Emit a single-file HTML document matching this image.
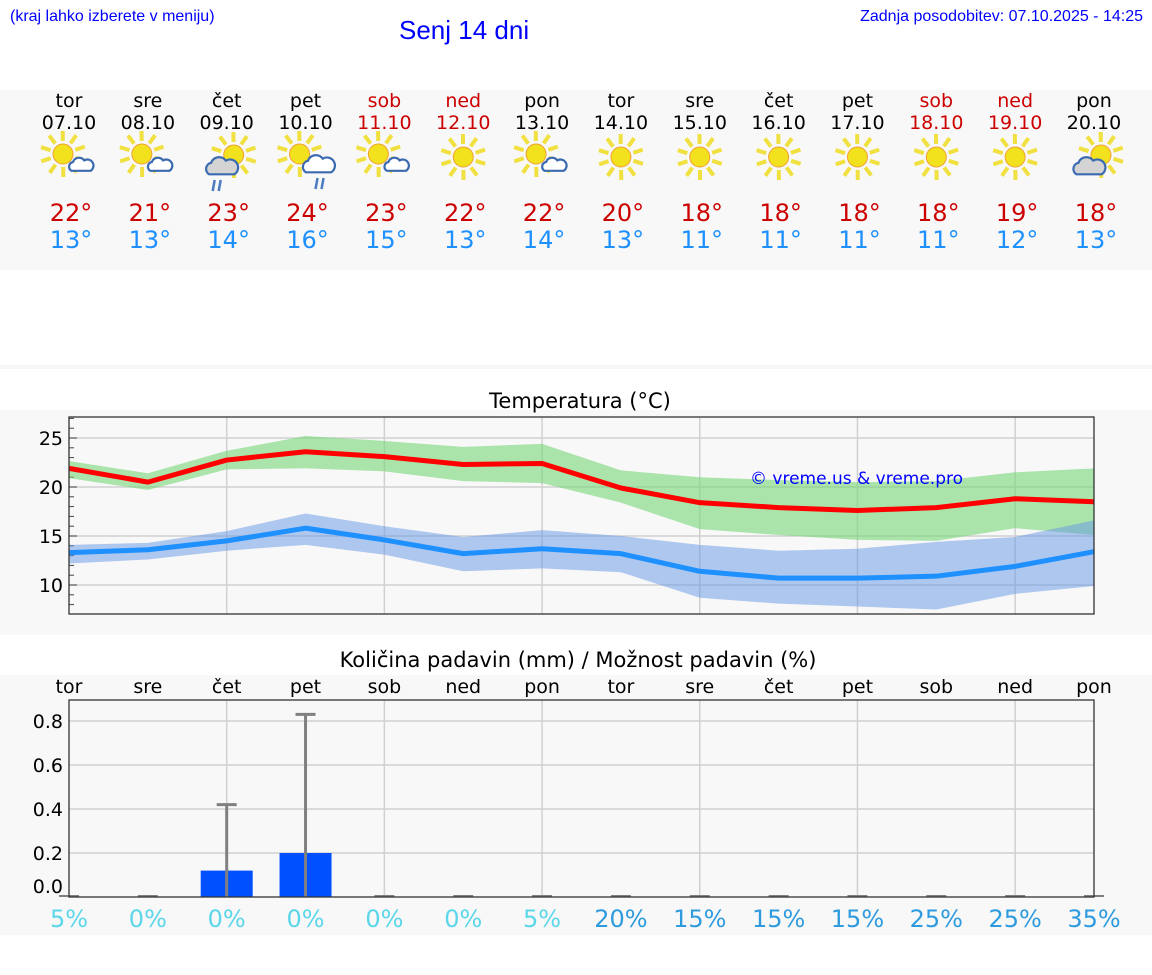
<!DOCTYPE html>
<html><head><meta charset="utf-8"><style>
html,body{margin:0;padding:0;background:#fff;width:1152px;height:975px;overflow:hidden}
svg{display:block}
text{font-family:"DejaVu Sans","Liberation Sans",sans-serif}
.lib{font-family:"Liberation Sans",sans-serif}
</style></head><body>
<svg id="c" width="1152" height="975" viewBox="0 0 1152 975" xmlns="http://www.w3.org/2000/svg">
<rect x="0" y="90" width="1152" height="180" fill="#f8f8f8"/>
<rect x="0" y="365" width="1152" height="4" fill="#f6f6f6"/>
<rect x="0" y="410" width="1152" height="225" fill="#f8f8f8"/>
<rect x="0" y="675" width="1152" height="260" fill="#f8f8f8"/>
<text class="lib" x="10" y="21" font-size="16" fill="#0000ff">(kraj lahko izberete v meniju)</text>
<text class="lib" x="399" y="39" font-size="26" fill="#0000ff">Senj 14 dni</text>
<text class="lib" x="1143" y="21" font-size="16" fill="#0000ff" text-anchor="end">Zadnja posodobitev: 07.10.2025 - 14:25</text>
<g id="days"></g>
<text x="580" y="408" font-size="21" text-anchor="middle" fill="#000">Temperatura (°C)</text>
<rect x="69" y="417" width="1025" height="197" fill="#f8f8f8"/>
<g id="temp"></g>
<text x="578" y="667" font-size="21" text-anchor="middle" fill="#000">Količina padavin (mm) / Možnost padavin (%)</text>
<rect x="69" y="700" width="1025" height="197" fill="#f8f8f8"/>
<g id="prec"></g>
</svg>
<script>
const days=['tor','sre','čet','pet','sob','ned','pon','tor','sre','čet','pet','sob','ned','pon'];
const dates=['07.10','08.10','09.10','10.10','11.10','12.10','13.10','14.10','15.10','16.10','17.10','18.10','19.10','20.10'];
const weekend=[0,0,0,0,1,1,0,0,0,0,0,1,1,0];
const icons=['sc','sc','rg','rc','sc','s','sc','s','s','s','s','s','s','sg'];
const hiLabel=[22,21,23,24,23,22,22,20,18,18,18,18,19,18];
const loLabel=[13,13,14,16,15,13,14,13,11,11,11,11,12,13];
const tMax=[21.9,20.5,22.75,23.6,23.1,22.3,22.4,19.9,18.4,17.9,17.6,17.9,18.8,18.5];
const tMaxHi=[22.65,21.4,23.7,25.2,24.7,24.1,24.4,21.7,21.0,20.7,20.5,20.6,21.5,21.9];
const tMaxLo=[20.9,19.7,21.8,21.9,21.6,20.6,20.4,18.4,15.7,15.1,14.6,14.5,15.8,15.1];
const tMin=[13.3,13.6,14.5,15.8,14.6,13.2,13.7,13.2,11.4,10.7,10.7,10.9,11.9,13.4];
const tMinHi=[14.1,14.3,15.5,17.3,16.0,14.9,15.6,15.0,14.1,13.5,13.7,14.4,14.9,16.6];
const tMinLo=[12.2,12.6,13.5,14.1,13.1,11.4,11.7,11.3,8.7,8.1,7.8,7.5,9.1,9.9];
const tTicks=[10,15,20,25];
const precip=[0,0,0.12,0.2,0,0,0,0,0,0,0,0,0,0];
const precipErr=[0,0,0.42,0.83,0,0,0,0,0,0,0,0,0,0];
const chance=[5,0,0,0,0,0,5,20,15,15,15,25,25,35];
const pTicks=[0,0.2,0.4,0.6,0.8];

const NS='http://www.w3.org/2000/svg';
function mk(parent,tag,attrs,txt){const e=document.createElementNS(NS,tag);for(const k in attrs)e.setAttribute(k,attrs[k]);if(txt!==undefined)e.textContent=txt;parent.appendChild(e);return e;}
const X=i=>69+i*(1025/13);
const TY=v=>487-(v-20)*9.8;
const PY=v=>897-v*220;

const dg=document.getElementById('days');
function sun(g,cx,cy,r){
  for(let k=0;k<10;k++){const a=k*Math.PI/5+0.3;
    const l=mk(g,'line',{x1:cx+Math.cos(a)*(r+3),y1:cy+Math.sin(a)*(r+3),x2:cx+Math.cos(a)*(r+13),y2:cy+Math.sin(a)*(r+13),stroke:'#f0e040','stroke-width':4});
    }
  const c=mk(g,'circle',{cx:cx,cy:cy,r:r,fill:'#f2e21e',stroke:'#f0a030','stroke-width':1});
  
}
function cloud(g,cx,cy,s,fill){
  const p=mk(g,'path',{d:`M${cx-12*s} ${cy+6*s} a${6*s} ${6*s} 0 0 1 ${2*s} ${-11*s} a${8*s} ${8*s} 0 0 1 ${14*s} ${-2*s} a${6*s} ${6*s} 0 0 1 ${8*s} ${13*s} z`,fill:fill,stroke:'#3a6ab0','stroke-width':2.2});
  
}
function rain(g,cx,cy){
  for(const dx of [0,6]){const l=mk(g,'line',{x1:cx+dx+2,y1:cy,x2:cx+dx,y2:cy+11,stroke:'#4a7ac0','stroke-width':2.5});
    }
}
for(let i=0;i<14;i++){
  const x=X(i);const col=weekend[i]?'#cc0000':'#000';
  const g=mk(dg,'g',{});
  
  
  const t1=mk(g,'text',{x:x,y:107,'font-size':19,'text-anchor':'middle',fill:col},days[i]);
  
  const t2=mk(g,'text',{x:x,y:129,'font-size':19,'text-anchor':'middle',fill:col},dates[i]);
  
  const ic=mk(g,'g',{});
  
  const t=icons[i];
  if(t==='s'){sun(ic,x,157,10);}
  else if(t==='sc'){sun(ic,x-6,154,10);cloud(ic,x+12,166,0.8,'#ffffff');}
  else if(t==='rc'){sun(ic,x-6,154,10);cloud(ic,x+13,166,1.05,'#ffffff');rain(ic,x+10,178);}
  else if(t==='rg'){sun(ic,x+7,155,10);cloud(ic,x-5,168,1.05,'#d4d4d4');rain(ic,x-14,180);}
  else if(t==='sg'){sun(ic,x+7,155,10);cloud(ic,x-5,168,1.05,'#d4d4d4');}
  const t3=mk(g,'text',{x:x+2,y:221,'font-size':24,'text-anchor':'middle',fill:'#cc0000'},hiLabel[i]+'°');
  
  const t4=mk(g,'text',{x:x+2,y:248,'font-size':24,'text-anchor':'middle',fill:'#1e90ff'},loLabel[i]+'°');
  
}

const tg=document.getElementById('temp');
for(let i=2;i<14;i+=2){const l=mk(tg,'line',{x1:X(i),x2:X(i),y1:417,y2:614,stroke:'#d0d0d0','stroke-width':1.5});
  }
for(const v of tTicks){const y=TY(v);
  const l=mk(tg,'line',{x1:69,x2:1094,y1:y,y2:y,stroke:'#d0d0d0','stroke-width':1.5});
  
  const t=mk(tg,'text',{x:63,y:y+7,'font-size':19,'text-anchor':'end',fill:'#000'},v);
  }
for(let v=8;v<=27;v++){const y=TY(v);const mt=mk(tg,'line',{x1:69,x2:v%5===0?77:74,y1:y,y2:y,stroke:'#444','stroke-width':1});
  }
function band(hi,lo,fill,name){
  let d='M'+hi.map((v,i)=>X(i)+' '+TY(v)).join(' L')+' L'+lo.map((v,i)=>X(i)+' '+TY(v)).reverse().join(' L')+' Z';
  const p=mk(tg,'path',{d:d,fill:fill});}
function line(a,col,name){
  const p=mk(tg,'polyline',{points:a.map((v,i)=>X(i)+','+TY(v)).join(' '),fill:'none',stroke:col,'stroke-width':5,'stroke-linejoin':'round'});
  }
band(tMaxHi,tMaxLo,'rgba(120,215,120,0.6)','max-temp-range');
band(tMinHi,tMinLo,'rgba(100,150,230,0.5)','min-temp-range');
line(tMax,'#ff0000','max-temp-line');
line(tMin,'#1e90ff','min-temp-line');
const wm=mk(tg,'text',{x:750,y:484,'font-size':17,fill:'#0000ff'},'© vreme.us & vreme.pro');

const tf=mk(tg,'rect',{x:69,y:417,width:1025,height:197,fill:'none',stroke:'#333','stroke-width':1.3});


const pg=document.getElementById('prec');
for(let i=2;i<14;i+=2){const l=mk(pg,'line',{x1:X(i),x2:X(i),y1:700,y2:897,stroke:'#d0d0d0','stroke-width':1.5});
  }
for(const v of pTicks){const y=PY(v);
  if(v>0){const l=mk(pg,'line',{x1:69,x2:1094,y1:y,y2:y,stroke:'#d0d0d0','stroke-width':1.5});
  }
  const t=mk(pg,'text',{x:63,y:(v===0?886:y)+7,'font-size':19,'text-anchor':'end',fill:'#000'},v.toFixed(1));
  }
for(let i=0;i<14;i++){const x=X(i);
  const d=mk(pg,'text',{x:x,y:693,'font-size':19,'text-anchor':'middle',fill:'#000'},days[i]);
  
  if(precip[i]>0){const b=mk(pg,'rect',{x:x-26,y:PY(precip[i]),width:52,height:897-PY(precip[i]),fill:'#0050ff'});
    }
  if(precipErr[i]>0){
    const e=mk(pg,'line',{x1:x,x2:x,y1:PY(precipErr[i]),y2:897,stroke:'#808080','stroke-width':3});
    
    const c=mk(pg,'line',{x1:x-10,x2:x+10,y1:PY(precipErr[i]),y2:PY(precipErr[i]),stroke:'#808080','stroke-width':3});
    
  } else {const c=mk(pg,'line',{x1:x-10,x2:x+10,y1:896,y2:896,stroke:'#808080','stroke-width':2});
    }
  const pc=mk(pg,'text',{x:x,y:927,'font-size':24,'text-anchor':'middle',fill:chance[i]>=10?'#2f9bdf':'#5cd6ea'},chance[i]+'%');
  
}
const pf=mk(pg,'rect',{x:69,y:700,width:1025,height:197,fill:'none',stroke:'#333','stroke-width':1.3});

</script>
</body></html>
